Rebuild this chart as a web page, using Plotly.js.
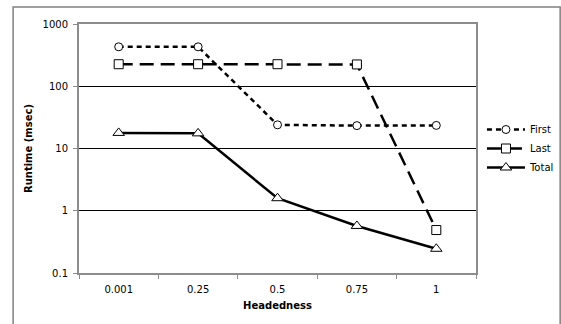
<!DOCTYPE html>
<html>
<head>
<meta charset="utf-8">
<script src="https://cdn.plot.ly/plotly-3.0.1.min.js"></script>
<style>
html,body{margin:0;padding:0;background:#fff;}
#chart{width:561px;height:324px;}
</style>
</head>
<body>
<div id="chart"></div>
<script>
var categories = ["0.001", "0.25", "0.5", "0.75", "1"];
var firstValues = [430, 430, 24, 23.3, 23.5];
var lastValues = [226, 226, 226, 224, 0.49];
var totalValues = [17.8, 17.5, 1.59, 0.57, 0.245];
var yTickVals = [0.1, 1, 10, 100, 1000];
var yTickText = ["0.1", "1", "10", "100", "1000"];

var font = {family: "DejaVu Sans, Verdana, sans-serif", size: 10, color: "#000"};

var traces = [
  {
    x: categories, y: firstValues, name: "First", type: "scatter", mode: "lines+markers",
    line: {color: "#000", width: 2.5, dash: "5px,4px"},
    marker: {symbol: "circle", size: 8, color: "#fff", line: {color: "#000", width: 1}}
  },
  {
    x: categories, y: lastValues, name: "Last", type: "scatter", mode: "lines+markers",
    line: {color: "#000", width: 2.5, dash: "14px,7px"},
    marker: {symbol: "square", size: 9, color: "#fff", line: {color: "#000", width: 1}}
  },
  {
    x: categories, y: totalValues, name: "Total", type: "scatter", mode: "lines+markers",
    line: {color: "#000", width: 2.5},
    marker: {symbol: "triangle-up", size: 10, color: "#fff", line: {color: "#000", width: 1}}
  }
];

var layout = {
  width: 561, height: 324,
  margin: {l: 79, r: 85, t: 24, b: 51, autoexpand: false},
  paper_bgcolor: "#fff", plot_bgcolor: "#fff",
  font: font,
  showlegend: true,
  legend: {
    x: 1.015, xanchor: "left", y: 0.5, yanchor: "middle",
    font: {family: font.family, size: 10, color: "#000"},
    itemwidth: 38, tracegroupgap: 0, bgcolor: "rgba(0,0,0,0)"
  },
  xaxis: {
    type: "category",
    automargin: false,
    title: {text: "<b>Headedness</b>", font: {family: font.family, size: 10, color: "#000"}, standoff: 8},
    showgrid: false, zeroline: false,
    showline: true, linecolor: "#8c8c8c", linewidth: 2, mirror: true,
    ticks: "outside", ticklen: 4, tickcolor: "#8c8c8c", tickwidth: 1,
    tickson: "boundaries",
    ticklabelstandoff: 6,
    tickfont: {family: font.family, size: 10, color: "#000"},
    range: [-0.5, 4.5]
  },
  yaxis: {
    type: "log",
    automargin: false,
    range: [-1, 3],
    tickvals: yTickVals, ticktext: yTickText,
    title: {text: "<b>Runtime (msec)</b>", font: {family: font.family, size: 10, color: "#000"}, standoff: 8},
    showgrid: true, gridcolor: "#000", gridwidth: 1,
    zeroline: false,
    showline: true, linecolor: "#8c8c8c", linewidth: 2, mirror: true,
    ticks: "outside", ticklen: 4, tickcolor: "#8c8c8c", tickwidth: 1,
    ticklabelstandoff: 3,
    tickfont: {family: font.family, size: 10, color: "#000"}
  },
  shapes: [
    {type: "rect", xref: "paper", yref: "paper",
     x0: -0.166, x1: 1.212, y0: -0.26, y1: 1.068,
     line: {color: "#808080", width: 1.5}, fillcolor: "rgba(0,0,0,0)", layer: "below"}
  ]
};

Plotly.newPlot("chart", traces, layout, {displayModeBar: false, staticPlot: true});
</script>
</body>
</html>
